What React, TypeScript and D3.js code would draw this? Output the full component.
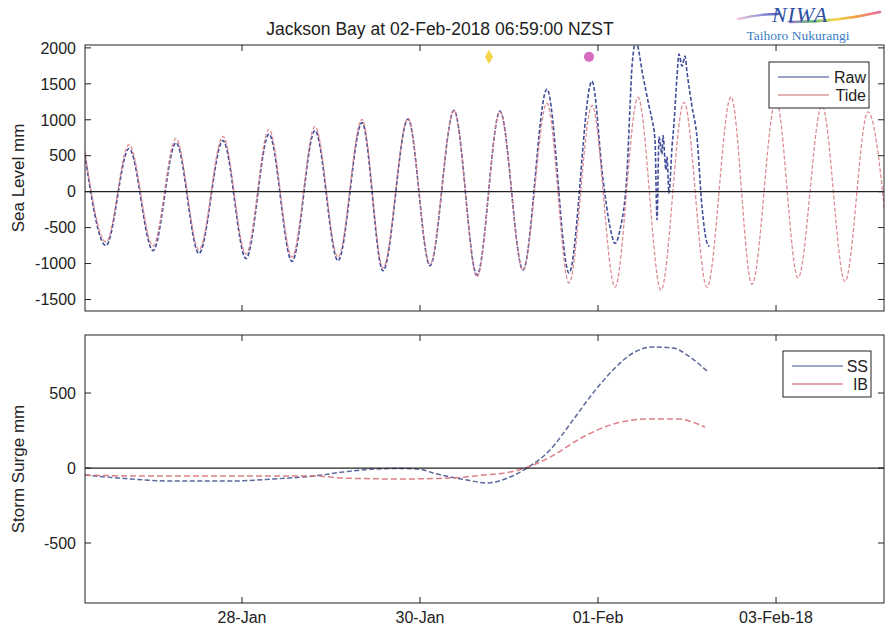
import React from 'react';
import * as d3 from 'd3';

const parse = d3.utcParse('%Y-%m-%d %H:%M');

// predicted tide, extrema (mm)
const tideTimes = [
  '2018-01-26 05:23', '2018-01-26 11:19', '2018-01-26 17:32', '2018-01-27 00:00',
  '2018-01-27 06:12', '2018-01-27 12:24', '2018-01-27 18:52', '2018-01-28 01:05',
  '2018-01-28 07:17', '2018-01-28 13:29', '2018-01-28 19:41', '2018-01-29 01:53',
  '2018-01-29 08:22', '2018-01-29 14:01', '2018-01-29 20:46', '2018-01-30 02:41',
  '2018-01-30 09:10', '2018-01-30 15:22', '2018-01-30 21:34', '2018-01-31 03:46',
  '2018-01-31 10:14', '2018-01-31 16:11', '2018-01-31 22:23', '2018-02-01 04:35',
  '2018-02-01 10:47', '2018-02-01 16:59', '2018-02-01 23:11', '2018-02-02 05:23',
  '2018-02-02 11:52', '2018-02-02 17:31', '2018-02-03 00:00', '2018-02-03 05:56',
  '2018-02-03 12:24', '2018-02-03 18:36', '2018-02-04 00:48', '2018-02-04 07:01',
];
const tideLevels = [
  640, -700, 656, -754, 740, -810, 768, -866, 866, -908, 908, -908,
  1006, -1061, 1020, -1005, 1131, -1187, 1117, -1089, 1230, -1271, 1200, -1327,
  1313, -1370, 1243, -1330, 1320, -1290, 1280, -1200, 1200, -1250, 1110, -1240,
];

// raw gauge record (mm)
const rawTimes = [
  '2018-01-26 05:23', '2018-01-26 11:19', '2018-01-26 17:32', '2018-01-27 00:00',
  '2018-01-27 06:12', '2018-01-27 12:24', '2018-01-27 18:52', '2018-01-28 01:05',
  '2018-01-28 07:17', '2018-01-28 13:29', '2018-01-28 19:41', '2018-01-29 01:53',
  '2018-01-29 08:22', '2018-01-29 14:01', '2018-01-29 20:46', '2018-01-30 02:41',
  '2018-01-30 09:10', '2018-01-30 15:22', '2018-01-30 21:34', '2018-01-31 03:46',
  '2018-01-31 10:14', '2018-01-31 16:11', '2018-01-31 22:23', '2018-02-01 01:21',
  '2018-02-01 03:14', '2018-02-01 04:35', '2018-02-01 05:56', '2018-02-01 07:49',
  '2018-02-01 08:38', '2018-02-01 09:10', '2018-02-01 10:14', '2018-02-01 12:08',
  '2018-02-01 13:45', '2018-02-01 14:34', '2018-02-01 15:22', '2018-02-01 15:55',
  '2018-02-01 16:27', '2018-02-01 17:15', '2018-02-01 17:31', '2018-02-01 18:20',
  '2018-02-01 18:36', '2018-02-01 19:08', '2018-02-01 19:57', '2018-02-01 20:29',
  '2018-02-01 21:18', '2018-02-01 21:50', '2018-02-01 22:39', '2018-02-01 23:28',
  '2018-02-02 00:00', '2018-02-02 01:20', '2018-02-02 02:40', '2018-02-02 04:02',
  '2018-02-02 05:23', '2018-02-02 06:00',
];
const rawLevels = [
  600, -750, 600, -820, 680, -860, 710, -930, 800, -970, 850, -960,
  960, -1100, 1010, -1030, 1130, -1160, 1120, -1090, 1425, -1131, 1536, 168,
  -489, -720, -530, 265, 1187, 1746, 2080, 1606,
  1190, 1000, 720, -391,
  760, 520, 780, 300,
  480, -20, 620, 950,
  1606, 1913, 1746, 1885,
  1662, 1187, 768, -209,
  -712, -760,
];

// storm surge (mm)
const surgeTimes = [
  '2018-01-26 05:40', '2018-01-26 18:04', '2018-01-27 04:51', '2018-01-27 20:29',
  '2018-01-28 08:38', '2018-01-28 19:25', '2018-01-29 03:14', '2018-01-29 10:47',
  '2018-01-29 18:36', '2018-01-30 00:00', '2018-01-30 03:30', '2018-01-30 12:40',
  '2018-01-30 18:04', '2018-01-31 00:16', '2018-01-31 04:51', '2018-01-31 11:03',
  '2018-01-31 17:15', '2018-01-31 22:39', '2018-02-01 04:02', '2018-02-01 09:26',
  '2018-02-01 14:50', '2018-02-01 20:13', '2018-02-02 00:49', '2018-02-02 05:40',
];
const surgeLevels = [
  -47, -73, -87, -87, -73, -53, -27, -8, -3, -8, -33, -80,
  -100, -60, 0, 120, 320, 500, 653, 767, 807, 800, 740, 640,
];

// inverse barometer (mm)
const ibTimes = [
  '2018-01-26 05:40', '2018-01-26 21:18', '2018-01-27 20:29', '2018-01-28 11:52',
  '2018-01-28 19:25', '2018-01-29 03:14', '2018-01-29 18:36', '2018-01-30 08:05',
  '2018-01-30 16:59', '2018-01-31 00:16', '2018-01-31 05:07', '2018-01-31 11:03',
  '2018-01-31 19:57', '2018-02-01 05:07', '2018-02-01 14:01', '2018-02-01 21:18',
  '2018-02-02 04:51',
];
const ibLevels = [
  -47, -53, -53, -53, -53, -67, -73, -67, -47, -27, 7, 73,
  207, 300, 327, 327, 273,
];

const markerTimes = ['2018-01-30 18:36', '2018-01-31 21:34'];
const markerLevels = [1875, 1875];

const tickDates = ['2018-01-28 00:00', '2018-01-30 00:00', '2018-02-01 00:00', '2018-02-03 00:00'];
const tickLabels = ['28-Jan', '30-Jan', '01-Feb', '03-Feb-18'];
const levelTicks = [-1500, -1000, -500, 0, 500, 1000, 1500, 2000];
const surgeTicks = [-500, 0, 500];

const FONT = "Helvetica, 'Liberation Sans', Arial, sans-serif";
const BLUE = '#2c3a8e';
const RED = '#da8088';

const W = 892;
const H = 627;
const left = 85;
const right = 884;

const x = d3
  .scaleUtc()
  .domain([parse('2018-01-26 05:40'), parse('2018-02-04 05:07')])
  .range([left, right]);

const zip = (times, vals) => times.map((t, i) => ({ date: parse(t), value: vals[i] }));

const Panel = ({ id, top, bottom, domain, ticks, label, series, legend, showDates }) => {
  const y = d3.scaleLinear().domain(domain).range([bottom, top]);
  const line = d3
    .line()
    .x(d => x(d.date))
    .y(d => y(d.value))
    .curve(d3.curveMonotoneX);
  const tl = 6;
  return (
    <g>
      <defs>
        <clipPath id={id}>
          <rect x={left} y={top} width={right - left} height={bottom - top} />
        </clipPath>
      </defs>
      <g clipPath={`url(#${id})`}>
        {series.map(s => (
          <path
            key={s.name}
            d={line(s.data)}
            fill="none"
            stroke={s.color}
            strokeWidth={s.width}
            strokeDasharray={s.dash}
            strokeOpacity={0.9}
          />
        ))}
      </g>
      <line x1={left} x2={right} y1={y(0)} y2={y(0)} stroke="#222" strokeWidth={1.2} />
      <rect x={left} y={top} width={right - left} height={bottom - top} fill="none" stroke="#222" strokeWidth={1} />
      {ticks.map(t => (
        <g key={t}>
          <line x1={left} x2={left + tl} y1={y(t)} y2={y(t)} stroke="#222" />
          <line x1={right - tl} x2={right} y1={y(t)} y2={y(t)} stroke="#222" />
          <text x={left - 9} y={y(t)} dy="0.36em" textAnchor="end" fontSize={16} fontFamily={FONT} fill="#222">
            {t}
          </text>
        </g>
      ))}
      {tickDates.map((t, i) => (
        <g key={t}>
          <line x1={x(parse(t))} x2={x(parse(t))} y1={bottom} y2={bottom - tl} stroke="#222" />
          <line x1={x(parse(t))} x2={x(parse(t))} y1={top} y2={top + tl} stroke="#222" />
          {showDates && (
            <text x={x(parse(t))} y={bottom + 20} textAnchor="middle" fontSize={16} fontFamily={FONT} fill="#222">
              {tickLabels[i]}
            </text>
          )}
        </g>
      ))}
      <text
        transform={`translate(24,${(top + bottom) / 2}) rotate(-90)`}
        textAnchor="middle"
        fontSize={17}
        fontFamily={FONT}
        fill="#222"
      >
        {label}
      </text>
      <g>
        <rect x={legend.x} y={legend.y} width={legend.w} height={46} fill="#fff" stroke="#222" />
        {series.map((s, i) => (
          <g key={s.name}>
            <line
              x1={legend.x + 9}
              x2={legend.x + 60}
              y1={legend.y + 15 + i * 18}
              y2={legend.y + 15 + i * 18}
              stroke={s.legendColor}
              strokeWidth={1.6}
            />
            <text
              x={legend.x + legend.w - 3}
              y={legend.y + 15 + i * 18}
              dy="0.36em"
              textAnchor="end"
              fontSize={16}
              fontFamily={FONT}
              fill="#222"
            >
              {s.name}
            </text>
          </g>
        ))}
      </g>
    </g>
  );
};

const Logo = () => (
  <g>
    <defs>
      <linearGradient id="swL" x1="0" x2="1">
        <stop offset="0" stopColor="#f2c6de" />
        <stop offset="0.5" stopColor="#a59ad8" />
        <stop offset="1" stopColor="#4a62c0" />
      </linearGradient>
      <linearGradient id="swR" x1="0" x2="1">
        <stop offset="0" stopColor="#9a7ad0" />
        <stop offset="0.25" stopColor="#6cc070" />
        <stop offset="0.5" stopColor="#f2d84a" />
        <stop offset="0.75" stopColor="#f39a4a" />
        <stop offset="1" stopColor="#e86aa0" />
      </linearGradient>
    </defs>
    <path d="M738,19 C750,16 762,14 778,14" fill="none" stroke="url(#swL)" strokeWidth={2.4} strokeLinecap="round" />
    <path d="M790,22 C815,22 850,19 880,12" fill="none" stroke="url(#swR)" strokeWidth={2.6} strokeLinecap="round" />
    <text
      x={800}
      y={22}
      textAnchor="middle"
      fontSize={22}
      fontStyle="italic"
      fontFamily="'Liberation Serif', 'DejaVu Serif', serif"
      fill="#2d4ea3"
      letterSpacing={1}
    >
      NIWA
    </text>
    <text
      x={798}
      y={40}
      textAnchor="middle"
      fontSize={13.5}
      fontFamily="'Liberation Serif', 'DejaVu Serif', serif"
      fill="#3b7cc6"
    >
      Taihoro Nukurangi
    </text>
  </g>
);

export default function App() {
  const tide = zip(tideTimes, tideLevels);
  const raw = zip(rawTimes, rawLevels);
  const surge = zip(surgeTimes, surgeLevels);
  const ib = zip(ibTimes, ibLevels);
  const yTop = d3.scaleLinear().domain([-1660, 2040]).range([311, 45]);

  return (
    <svg width={W} height={H} style={{ position: 'absolute', left: 0, top: 0, background: '#fff' }}>
      <rect width={W} height={H} fill="#fff" />
      <text x={440} y={35} textAnchor="middle" fontSize={17.5} fontFamily={FONT} fill="#222">
        Jackson Bay at 02-Feb-2018 06:59:00 NZST
      </text>
      <Logo />
      <Panel
        id="clipTop"
        top={45}
        bottom={311}
        domain={[-1660, 2040]}
        ticks={levelTicks}
        label="Sea Level mm"
        showDates={false}
        legend={{ x: 769, y: 62, w: 100 }}
        series={[
          { name: 'Raw', data: raw, color: BLUE, legendColor: '#7a83b8', width: 1.6, dash: '4,2' },
          { name: 'Tide', data: tide, color: RED, legendColor: '#d9989c', width: 1.3, dash: '4,2' },
        ]}
      />
      {markerTimes.map((t, i) =>
        i === 0 ? (
          <path
            key={t}
            d={d3.symbol(d3.symbolDiamond, 60)()}
            transform={`translate(${x(parse(t))},${yTop(markerLevels[i])})`}
            fill="#f6d54e"
          />
        ) : (
          <circle key={t} cx={x(parse(t))} cy={yTop(markerLevels[i])} r={5} fill="#d56cc0" />
        )
      )}
      <Panel
        id="clipBottom"
        top={335}
        bottom={603}
        domain={[-900, 887]}
        ticks={surgeTicks}
        label="Storm Surge mm"
        showDates={true}
        legend={{ x: 783, y: 351, w: 88 }}
        series={[
          { name: 'SS', data: surge, color: '#4a5790', legendColor: '#8189b5', width: 1.5, dash: '5,2.5' },
          { name: 'IB', data: ib, color: '#d7727a', legendColor: '#d98a90', width: 1.5, dash: '6,3' },
        ]}
      />
    </svg>
  );
}
